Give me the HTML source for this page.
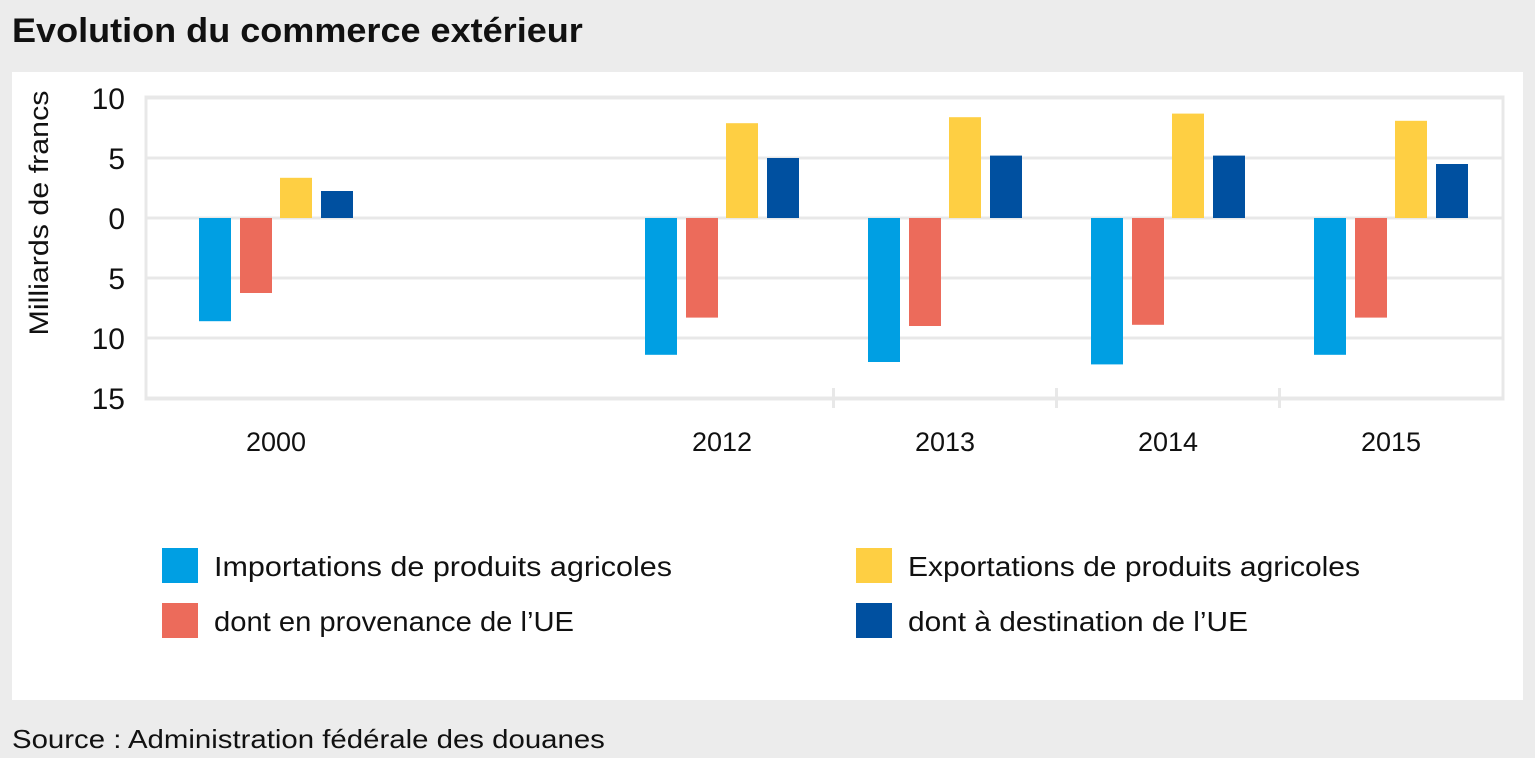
<!DOCTYPE html>
<html><head><meta charset="utf-8">
<style>
body{margin:0;width:1535px;height:758px;background:#ececec;font-family:"Liberation Sans",sans-serif;position:relative;overflow:hidden}
#title{position:absolute;left:12px;top:12px;font-size:34px;font-weight:bold;color:#111;white-space:nowrap;transform:scaleX(1.06);transform-origin:left}
#panel{position:absolute;left:12px;top:72px;width:1511px;height:628px;background:#fff}
#source{position:absolute;left:12px;top:724px;font-size:26px;color:#111;white-space:nowrap;transform:scaleX(1.13);transform-origin:left}
svg{position:absolute;left:0;top:0}
.leg{font-size:28px;fill:#111}
</style></head><body>
<div id="title">Evolution du commerce extérieur</div>
<div id="panel"></div>
<div id="source">Source : Administration fédérale des douanes</div>
<svg id="chart" width="1535" height="758"></svg>
<script>
const years=["2000","2012","2013","2014","2015"];
const slots=[0,2,3,4,5];
const imports=[-8.6,-11.4,-12.0,-12.2,-11.4];
const importsEU=[-6.25,-8.3,-9.0,-8.9,-8.3];
const exportsAg=[3.35,7.9,8.4,8.7,8.1];
const exportsEU=[2.25,5.0,5.2,5.2,4.5];
const yTicks=[10,5,0,-5,-10,-15];
const yTickLabels=["10","5","0","5","10","15"];
const seriesNames=["Importations de produits agricoles","dont en provenance de l’UE","Exportations de produits agricoles","dont à destination de l’UE"];
const colors=["#009fe3","#ec6b5b","#fecf43","#0050a0"];
const legendWidths=[458,360,452,340];

const NS="http://www.w3.org/2000/svg";
const svg=document.getElementById('chart');
function el(t,a,p){const e=document.createElementNS(NS,t);for(const k in a)e.setAttribute(k,a[k]);(p||svg).appendChild(e);return e;}
const y=v=>218-12*v;
const xc=s=>276+223*s;
const frame=el('rect',{x:146,y:97,width:1357,height:302,fill:'none',stroke:'#e8e8e8','stroke-width':3});


yTicks.forEach((v,i)=>{
  const g=el('line',{x1:146,x2:1503,y1:y(v),y2:y(v),stroke:'#e8e8e8','stroke-width':3});
  
  
  const t=el('text',{x:125,y:y(v)+11,'text-anchor':'end','font-size':30,fill:'#111'});
  t.textContent=yTickLabels[i];
  
  
});
[2.5,3.5,4.5].forEach(s=>{
  const tk=el('line',{x1:xc(s),x2:xc(s),y1:388,y2:408,stroke:'#e8e8e8','stroke-width':3});
  
  
});
const yt=el('text',{transform:'translate(48,213) rotate(-90)','text-anchor':'middle','font-size':27,fill:'#111',textLength:245,lengthAdjust:'spacingAndGlyphs'});
yt.textContent='Milliards de francs';


const series=[imports,importsEU,exportsAg,exportsEU];
const offs=[-77,-36,4,45];
years.forEach((yr,i)=>{
  const c=xc(slots[i]);
  series.forEach((s,k)=>{
    const v=s[i];
    const r=el('rect',{x:c+offs[k],width:32,y:Math.min(y(v),y(0)),height:Math.abs(y(v)-y(0)),fill:colors[k]});
    
    
  });
  const t=el('text',{x:c,y:451,'text-anchor':'middle','font-size':27,fill:'#111'});
  t.textContent=yr;
  
  
});
const lp=[[162,548],[162,603],[856,548],[856,603]];
seriesNames.forEach((n,k)=>{
  const g=el('g',{});
  
  
  el('rect',{x:lp[k][0],y:lp[k][1],width:36,height:35,fill:colors[k]},g);
  const t=el('text',{x:lp[k][0]+52,y:lp[k][1]+28,'class':'leg',textLength:legendWidths[k],lengthAdjust:'spacingAndGlyphs'},g);
  t.textContent=n;
});
</script>
</body></html>
